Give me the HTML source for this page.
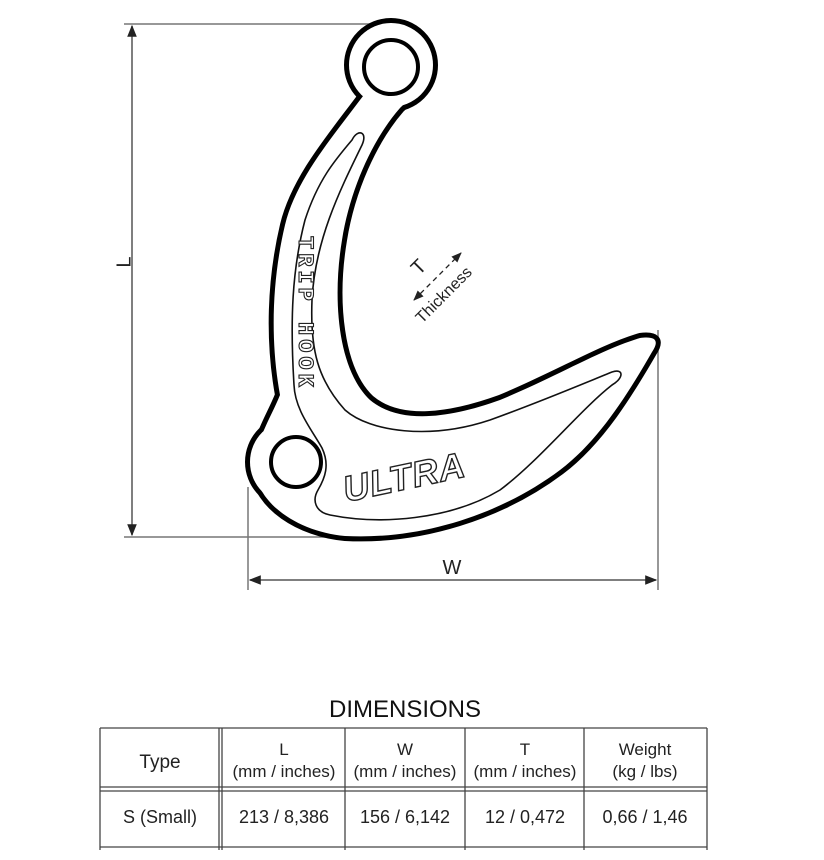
<!DOCTYPE html>
<html><head><meta charset="utf-8"><style>
html,body{margin:0;padding:0;background:#fff;width:824px;height:860px;overflow:hidden}
svg{position:absolute;left:0;top:0}
</style></head><body>
<svg width="824" height="860" viewBox="0 0 824 860" xmlns="http://www.w3.org/2000/svg" font-family="Liberation Sans, sans-serif">
<defs>
<marker id="ar" viewBox="0 0 10 10" refX="9" refY="5" markerWidth="8" markerHeight="8" orient="auto-start-reverse"><path d="M0,1 L10,5 L0,9 z" fill="#222"/></marker>
</defs>
<g stroke="#777" stroke-width="1.5" fill="none">
<line x1="124" y1="24" x2="372" y2="24"/>
<line x1="124" y1="537" x2="340" y2="537"/>
<line x1="132" y1="26" x2="132" y2="535" stroke="#555" marker-start="url(#ar)" marker-end="url(#ar)"/>
<line x1="248" y1="487" x2="248" y2="590"/>
<line x1="658" y1="330" x2="658" y2="590"/>
<line x1="250" y1="580" x2="656" y2="580" stroke="#555" marker-start="url(#ar)" marker-end="url(#ar)"/>
</g>
<text x="125" y="262" font-size="20" transform="rotate(-90 125 262)" text-anchor="middle" dominant-baseline="middle" fill="#222">L</text>
<text x="452" y="574" font-size="20" text-anchor="middle" fill="#222">W</text>

<g id="hk">
<path id="body" d="M360,100 C330,140 296,180 285,225 C272,280 270,340 280,395 C270,420 255,440 255,470 C258,505 300,532 345,536 C420,540 500,515 560,470 C600,440 630,390 652,352 C660,340 655,336 640,338 C600,350 560,375 500,400 C450,418 400,425 370,400 C338,370 332,300 342,240 C350,190 372,140 400,108 C408,100 414,96 420,92 L391,60 Z"/>
</g>
<g stroke="#000" stroke-width="10" fill="#000">
<use href="#body"/><circle cx="391" cy="65" r="42"/><circle cx="292" cy="462" r="42"/>
</g>
<g fill="#fff" stroke="none">
<use href="#body"/><circle cx="391" cy="65" r="42"/><circle cx="292" cy="462" r="42"/>
</g>
<circle cx="391" cy="67" r="27" fill="#fff" stroke="#000" stroke-width="4"/>
<circle cx="296" cy="462" r="25" fill="#fff" stroke="#000" stroke-width="4"/>
<g fill="none" stroke="#111" stroke-width="1.6">
<path d="M352,140 C358,128 368,132 362,145 C340,190 315,240 312,300 C310,350 318,380 345,410 C370,432 430,440 490,420 C540,402 580,385 612,372 C624,368 624,378 612,385 C580,410 540,460 500,490 C450,520 380,525 330,515 C315,512 312,500 318,490 C325,478 330,465 322,448 C312,430 295,410 294,385 C290,320 292,270 305,220 C318,180 335,160 352,140 Z"/>
</g>
<text x="0" y="0" font-family="Liberation Mono, monospace" font-weight="bold" font-size="22" letter-spacing="4" fill="#fff" stroke="#222" stroke-width="1.1" transform="translate(299,236) rotate(90)">TRIP HOOK</text>
<text x="0" y="0" font-family="Liberation Sans, sans-serif" font-style="italic" font-weight="bold" font-size="36" letter-spacing="1" fill="#fff" stroke="#222" stroke-width="1.4" transform="translate(346,502) rotate(-12)">ULTRA</text>
<line x1="414" y1="300" x2="461" y2="253" stroke="#222" stroke-width="1.3" stroke-dasharray="5,4" marker-start="url(#ar)" marker-end="url(#ar)"/>
<text x="0" y="0" font-size="20" fill="#222" transform="translate(419,276) rotate(-45)">T</text>
<text x="0" y="0" font-size="16" fill="#222" transform="translate(422,324) rotate(-45)">Thickness</text>

<text x="405" y="717" font-size="24" text-anchor="middle" fill="#111">DIMENSIONS</text>
<g stroke="#444" stroke-width="1.3" fill="none">
<line x1="100" y1="728" x2="707" y2="728"/>
<line x1="100" y1="787" x2="707" y2="787"/>
<line x1="100" y1="791" x2="707" y2="791"/>
<line x1="100" y1="847" x2="707" y2="847"/>
<line x1="100" y1="728" x2="100" y2="850"/>
<line x1="707" y1="728" x2="707" y2="850"/>
<line x1="219" y1="728" x2="219" y2="850"/>
<line x1="222" y1="728" x2="222" y2="850"/>
<line x1="345" y1="728" x2="345" y2="850"/>
<line x1="465" y1="728" x2="465" y2="850"/>
<line x1="584" y1="728" x2="584" y2="850"/>
</g>
<g font-size="17" fill="#222" text-anchor="middle">
<text x="160" y="768" font-size="19">Type</text>
<text x="284" y="755">L</text><text x="284" y="777">(mm / inches)</text>
<text x="405" y="755">W</text><text x="405" y="777">(mm / inches)</text>
<text x="525" y="755">T</text><text x="525" y="777">(mm / inches)</text>
<text x="645" y="755">Weight</text><text x="645" y="777">(kg / lbs)</text>
<text x="160" y="823" font-size="18">S (Small)</text>
<text x="284" y="823" font-size="18">213 / 8,386</text>
<text x="405" y="823" font-size="18">156 / 6,142</text>
<text x="525" y="823" font-size="18">12 / 0,472</text>
<text x="645" y="823" font-size="18">0,66 / 1,46</text>
</g>
</svg>
</body></html>
